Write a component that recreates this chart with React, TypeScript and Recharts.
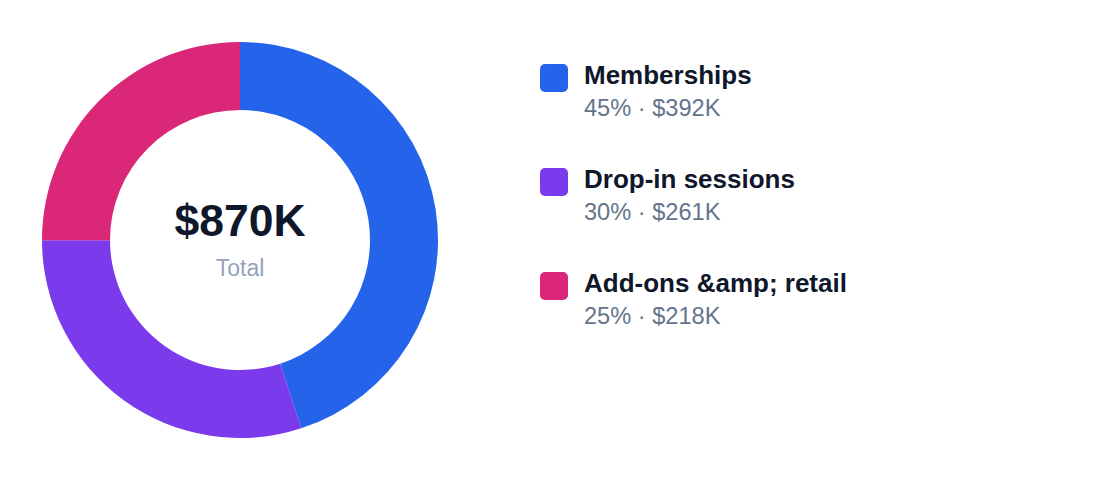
import React from "react";
import { PieChart, Pie, Cell, Legend, Label } from "recharts";

const categories = ["Memberships", "Drop-in sessions", "Add-ons &amp; retail"];
const values = [392, 261, 218];
const percents = ["45%", "30%", "25%"];
const valueLabels = ["$392K", "$261K", "$218K"];
const colors = ["#2563eb", "#7c3aed", "#db2777"];
const totalLabel = "$870K";
const totalCaption = "Total";

const data = categories.map((name, i) => ({ name, value: values[i] }));

const FONT = '"Liberation Sans", Arial, Helvetica, sans-serif';

const renderLegend = () => (
  <div style={{ fontFamily: FONT }}>
    {categories.map((name, i) => (
      <div key={name} style={{ position: "relative", height: 104 }}>
        <div
          style={{
            position: "absolute",
            left: 0,
            top: 4,
            width: 28,
            height: 28,
            borderRadius: 5,
            background: colors[i],
          }}
        />
        <div
          style={{
            position: "absolute",
            left: 44,
            top: 0,
            fontSize: 26,
            lineHeight: "30px",
            fontWeight: 700,
            color: "#0f172a",
            whiteSpace: "nowrap",
          }}
        >
          {name}
        </div>
        <div
          style={{
            position: "absolute",
            left: 44,
            top: 33,
            fontSize: 23.6,
            lineHeight: "30px",
            color: "#64748b",
            whiteSpace: "nowrap",
          }}
        >
          {percents[i]} · {valueLabels[i]}
        </div>
      </div>
    ))}
  </div>
);

const CenterLabel = (props: any) => {
  const vb = props.viewBox || {};
  const cx = vb.cx ?? 240;
  const cy = vb.cy ?? 240;
  return (
    <g>
      <text
        x={cx}
        y={cy - 4}
        textAnchor="middle"
        fontFamily={FONT}
        fontSize={44.5}
        fontWeight={700}
        fill="#0f172a"
      >
        {totalLabel}
      </text>
      <text
        x={cx}
        y={cy + 36}
        textAnchor="middle"
        fontFamily={FONT}
        fontSize={23}
        fill="#94a3b8"
      >
        {totalCaption}
      </text>
    </g>
  );
};

export default function App() {
  return (
    <div style={{ position: "absolute", left: 0, top: 0, width: 1120, height: 480, background: "#fff" }}>
      <PieChart width={1120} height={480} margin={{ top: 0, right: 0, bottom: 0, left: 0 }}>
        <Pie
          data={data}
          dataKey="value"
          nameKey="name"
          cx={240}
          cy={240}
          innerRadius={130}
          outerRadius={198}
          startAngle={90}
          endAngle={-270}
          stroke="none"
          isAnimationActive={false}
        >
          {data.map((d, i) => (
            <Cell key={d.name} fill={colors[i]} />
          ))}
          <Label position="center" content={<CenterLabel />} />
        </Pie>
        <Legend
          content={renderLegend}
          wrapperStyle={{ position: "absolute", left: 540, top: 60, width: 400, height: 320 }}
        />
      </PieChart>
    </div>
  );
}
